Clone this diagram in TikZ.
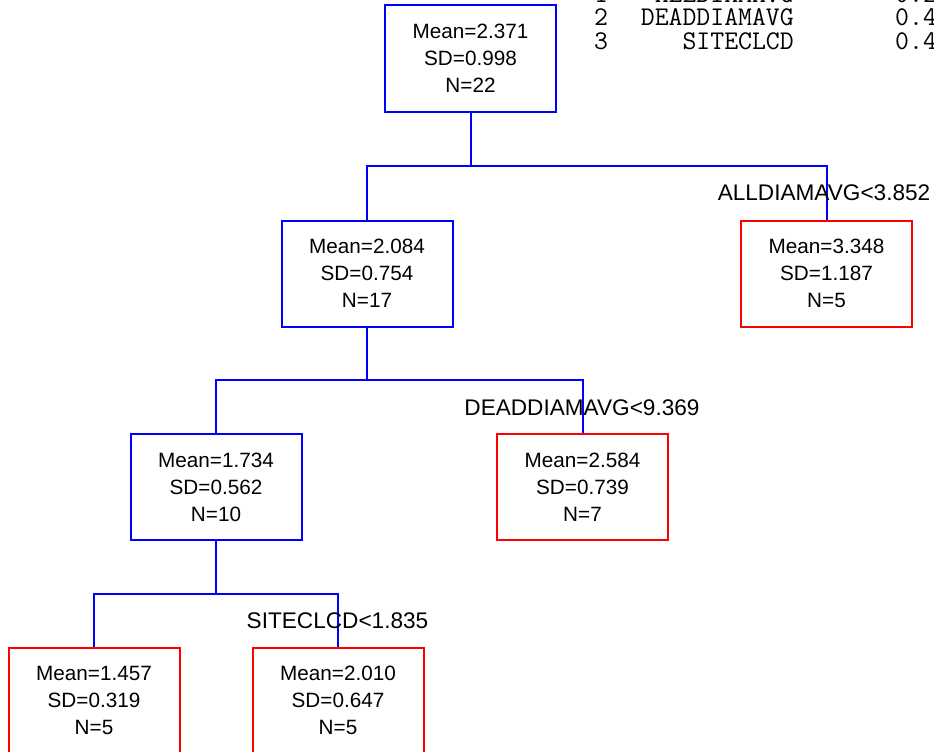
\documentclass[tikz,border=0pt]{standalone}
\usepackage{fontspec}
\setmainfont{Liberation Sans}
\begin{document}
\begin{tikzpicture}[x=1pt,y=-1pt,
  treebox/.style={draw, line width=2pt, minimum width=171pt, minimum height=106pt,
    inner sep=0pt, align=center, font=\fontsize{20.7}{27}\selectfont},
  inner/.style={treebox, draw=blue},
  leaf/.style={treebox, draw=red},
  branch/.style={draw=blue, line width=2pt},
  splitlabel/.style={inner sep=0pt, font=\fontsize{22.6}{26}\selectfont},
  listtext/.style={inner sep=0pt, text height=15pt, text depth=1pt,
    font=\ttfamily\fontsize{27}{27}\selectfont}]
\useasboundingbox (0,0) rectangle (934,752);
\clip (0,0) rectangle (934,752);

% variable importance list (top right)
\node[listtext, anchor=base west] (r1n) at (594,3) {1};
\node[listtext, anchor=base east] (r1v) at (794,3) {ALLDIAMAVG};
\node[listtext, anchor=base west] (r1s) at (895,3) {0.2};
\node[listtext, anchor=base west] (r2n) at (594,26) {2};
\node[listtext, anchor=base east] (r2v) at (794,26) {DEADDIAMAVG};
\node[listtext, anchor=base west] (r2s) at (895,26) {0.4};
\node[listtext, anchor=base west] (r3n) at (594,49) {3};
\node[listtext, anchor=base east] (r3v) at (794,49) {SITECLCD};
\node[listtext, anchor=base west] (r3s) at (895,49) {0.4};

% tree nodes
\node[inner] (root) at (470.5,58.5) {Mean=2.371\\SD=0.998\\N=22};
\node[inner] (n2) at (367,273.5) {Mean=2.084\\SD=0.754\\N=17};
\node[leaf]  (n3) at (826.5,273.5) {Mean=3.348\\SD=1.187\\N=5};
\node[inner] (n4) at (216,487) {Mean=1.734\\SD=0.562\\N=10};
\node[leaf]  (n5) at (582.5,487) {Mean=2.584\\SD=0.739\\N=7};
\node[leaf]  (n6) at (94,700.5) {Mean=1.457\\SD=0.319\\N=5};
\node[leaf]  (n7) at (338,700.5) {Mean=2.010\\SD=0.647\\N=5};

% split points
\coordinate (s1) at (470.5,166);
\coordinate (s2) at (367,380);
\coordinate (s3) at (216,594);

% connectors
\draw[branch] (root.south) -- (s1);
\draw[branch] (n2.north) |- (s1) -| (n3.north);
\draw[branch] (n2.south) -- (s2);
\draw[branch] (n4.north) |- (s2) -| (n5.north);
\draw[branch] (n4.south) -- (s3);
\draw[branch] (n6.north) |- (s3) -| (n7.north);

% split labels
\node[splitlabel] (l1) at (824,193) {ALLDIAMAVG<3.852};
\node[splitlabel] (l2) at (582,408) {DEADDIAMAVG<9.369};
\node[splitlabel] (l3) at (337.5,621) {SITECLCD<1.835};
\end{tikzpicture}
\end{document}
